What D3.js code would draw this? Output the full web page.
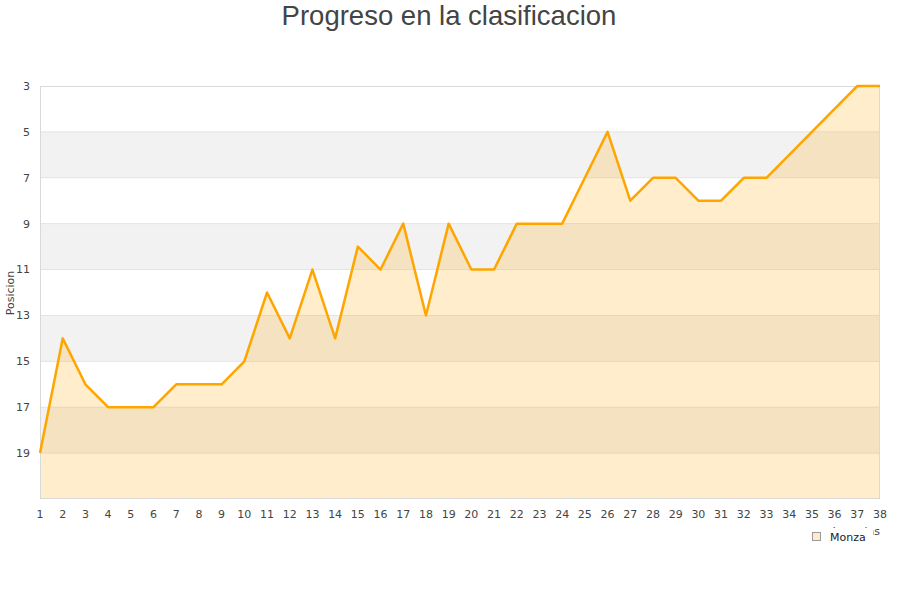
<!DOCTYPE html>
<html><head><meta charset="utf-8">
<script src="https://cdn.jsdelivr.net/npm/d3@7"></script>
<style>body{margin:0;background:#fff;}</style>
</head><body>
<svg id="c" width="900" height="600"></svg>
<script>
const jornadas = [1,2,3,4,5,6,7,8,9,10,11,12,13,14,15,16,17,18,19,20,21,22,23,24,25,26,27,28,29,30,31,32,33,34,35,36,37,38];
const posiciones = [19,14,16,17,17,17,16,16,16,15,12,14,11,14,10,11,9,13,9,11,11,9,9,9,7,5,8,7,7,8,8,7,7,6,5,4,3,3];
const yTicks = [3,5,7,9,11,13,15,17,19];
const bandas = [[5,7],[9,11],[13,15],[17,19]];
const titulo = "Progreso en la clasificacion";
const equipo = "Monza";

const svg = d3.select("#c");
const x = d3.scaleLinear().domain([1,38]).range([40,880]);
const y = d3.scaleLinear().domain([3,21]).range([86,499]);
const font = "DejaVu Sans, sans-serif";

svg.append("text").attr("x",449).attr("y",25).attr("text-anchor","middle")
  .attr("font-family","Liberation Sans, Arial, sans-serif").attr("font-size",27.5).attr("fill","#444").text(titulo);

svg.selectAll(".band").data(bandas).enter().append("rect")
  .attr("x",x(1)).attr("width",x(38)-x(1))
  .attr("y",d=>y(d[0])).attr("height",d=>y(d[1])-y(d[0])).attr("fill","#f2f2f2");

svg.selectAll(".grid").data(d3.range(5,21,2)).enter().append("line")
  .attr("x1",x(1)).attr("x2",x(38)).attr("y1",d=>y(d)).attr("y2",d=>y(d))
  .attr("stroke","#e3e3e3").attr("stroke-width",1);

const data = jornadas.map((j,i)=>({j, p:posiciones[i]}));
svg.append("path").datum(data)
  .attr("d", d3.area().x(d=>x(d.j)).y0(y(21)).y1(d=>y(d.p)))
  .attr("fill","rgba(255,165,0,0.2)");

svg.append("rect").attr("x",x(1)+0.5).attr("y",y(3)+0.5).attr("width",x(38)-x(1)-1).attr("height",y(21)-y(3)-1)
  .attr("fill","none").attr("stroke","#d9d9d9").attr("stroke-width",1);

svg.append("path").datum(data)
  .attr("d", d3.line().x(d=>x(d.j)).y(d=>y(d.p)))
  .attr("fill","none").attr("stroke","#ffa500").attr("stroke-width",2.5).attr("stroke-linejoin","round");

svg.selectAll(".yl").data(yTicks).enter().append("text")
  .attr("x",30).attr("y",d=>y(d)).attr("dy","0.35em").attr("text-anchor","end")
  .attr("font-family",font).attr("font-size",11).attr("fill","#444").text(d=>d);

svg.selectAll(".xl").data(jornadas).enter().append("text")
  .attr("x",d=>x(d)).attr("y",514).attr("dy","0.35em").attr("text-anchor","middle")
  .attr("font-family",font).attr("font-size",11).attr("fill","#444").text(d=>d);

svg.append("text").attr("transform","translate(14,293) rotate(-90)").attr("text-anchor","middle")
  .attr("font-family",font).attr("font-size",11).attr("fill","#444").text("Posicion");

svg.append("text").attr("x",880).attr("y",535).attr("text-anchor","end")
  .attr("font-family",font).attr("font-size",11).attr("fill","#444").text("Jornadas");
svg.append("rect").attr("x",805).attr("y",528).attr("width",68).attr("height",18).attr("fill","#fff");

svg.append("rect").attr("x",812.5).attr("y",532.5).attr("width",8).attr("height",8)
  .attr("fill","#ffebc8").attr("stroke","#999").attr("stroke-width",1);
svg.append("text").attr("x",830).attr("y",537).attr("dy","0.35em")
  .attr("font-family",font).attr("font-size",11).attr("fill","#222").text(equipo);
</script>
</body></html>
